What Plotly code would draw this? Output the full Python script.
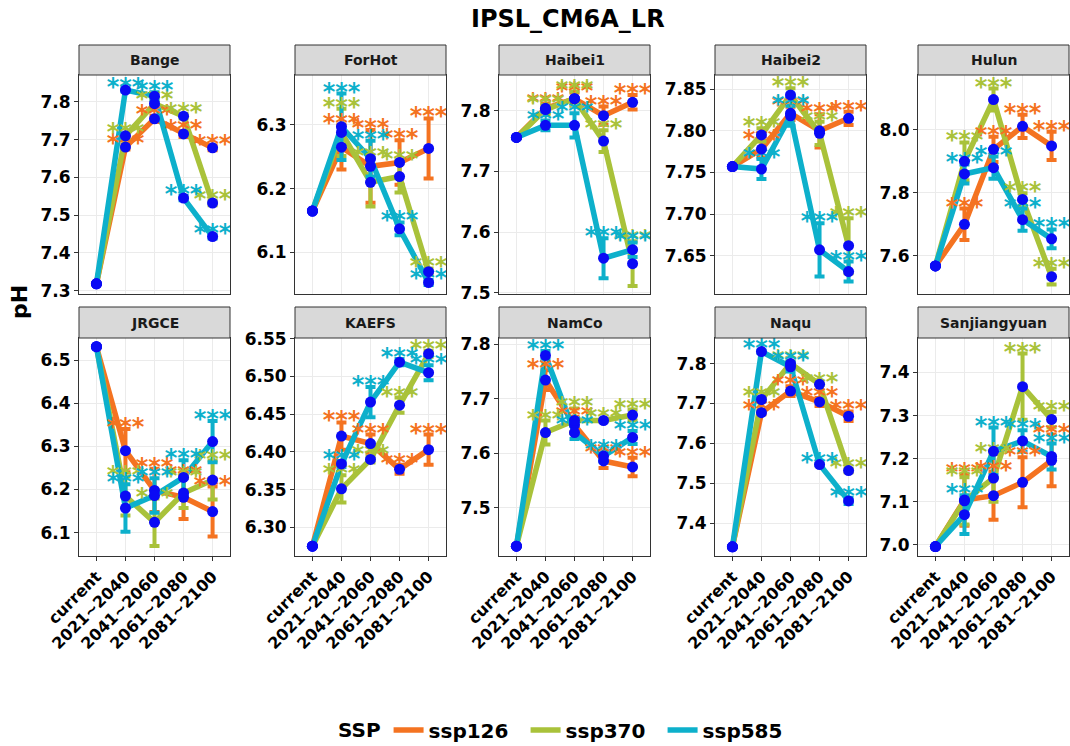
import plotly.graph_objects as go

# ---------------- data ----------------
PERIODS = ["current", "2021~2040", "2041~2060", "2061~2080", "2081~2100"]
SSPS = ["ssp126", "ssp370", "ssp585"]
SITES = ["Bange", "ForHot", "Haibei1", "Haibei2", "Hulun",
         "JRGCE", "KAEFS", "NamCo", "Naqu", "Sanjiangyuan"]
SIG = ["", "***", "***", "***", "***"]

# mean pH per SSP (ssp126, ssp370, ssp585)
bange_mean = [[7.318, 7.680, 7.755, 7.715, 7.678],
              [7.318, 7.710, 7.795, 7.762, 7.532],
              [7.318, 7.831, 7.815, 7.545, 7.443]]
bange_err = [[None, 0.006, 0.008, 0.008, 0.006],
             [None, 0.006, 0.008, 0.006, 0.006],
             [None, 0.004, 0.010, 0.006, 0.005]]

forhot_mean = [[6.165, 6.265, 6.235, 6.241, 6.263],
               [6.165, 6.288, 6.210, 6.219, 6.070],
               [6.165, 6.297, 6.247, 6.137, 6.053]]
forhot_err = [[None, 0.035, 0.057, 0.035, 0.047],
              [None, 0.037, 0.038, 0.025, 0.005],
              [None, 0.052, 0.028, 0.010, 0.004]]

haibei1_mean = [[7.756, 7.804, 7.820, 7.792, 7.814],
                [7.756, 7.802, 7.820, 7.750, 7.548],
                [7.756, 7.776, 7.776, 7.557, 7.571]]
haibei1_err = [[None, 0.008, 0.010, 0.015, 0.012],
               [None, 0.008, 0.012, 0.018, 0.037],
               [None, 0.008, 0.020, 0.033, 0.012]]

haibei2_mean = [[7.757, 7.778, 7.821, 7.800, 7.815],
                [7.757, 7.795, 7.843, 7.797, 7.662],
                [7.757, 7.754, 7.818, 7.657, 7.631]]
haibei2_err = [[None, 0.010, 0.008, 0.020, 0.008],
               [None, 0.008, 0.008, 0.014, 0.033],
               [None, 0.012, 0.012, 0.032, 0.012]]

hulun_mean = [[7.568, 7.700, 7.938, 8.011, 7.949],
              [7.568, 7.900, 8.096, 7.779, 7.534],
              [7.568, 7.860, 7.880, 7.715, 7.654]]
hulun_err = [[None, 0.050, 0.040, 0.037, 0.045],
             [None, 0.060, 0.035, 0.020, 0.025],
             [None, 0.030, 0.035, 0.035, 0.030]]

jrgce_mean = [[6.531, 6.290, 6.198, 6.182, 6.149],
              [6.531, 6.185, 6.124, 6.192, 6.222],
              [6.531, 6.157, 6.186, 6.228, 6.311]]
jrgce_err = [[None, 0.050, 0.050, 0.050, 0.058],
             [None, 0.045, 0.055, 0.035, 0.045],
             [None, 0.055, 0.040, 0.040, 0.048]]

kaefs_mean = [[6.275, 6.421, 6.411, 6.377, 6.403],
              [6.275, 6.351, 6.390, 6.462, 6.530],
              [6.275, 6.384, 6.466, 6.519, 6.505]]
kaefs_err = [[None, 0.018, 0.012, 0.006, 0.020],
             [None, 0.018, 0.004, 0.010, 0.004],
             [None, 0.004, 0.020, 0.004, 0.010]]

namco_mean = [[7.430, 7.734, 7.652, 7.586, 7.575],
              [7.430, 7.638, 7.660, 7.660, 7.670],
              [7.430, 7.779, 7.638, 7.595, 7.629]]
namco_err = [[None, 0.018, 0.015, 0.013, 0.017],
             [None, 0.022, 0.022, 0.002, 0.010],
             [None, 0.008, 0.012, 0.010, 0.012]]

naqu_mean = [[7.341, 7.677, 7.731, 7.704, 7.668],
             [7.341, 7.710, 7.800, 7.748, 7.532],
             [7.341, 7.830, 7.792, 7.547, 7.456]]
naqu_err = [[None, 0.004, 0.012, 0.010, 0.012],
            [None, 0.004, 0.006, 0.002, 0.004],
            [None, 0.003, 0.012, 0.002, 0.008]]

sanjiangyuan_mean = [[6.996, 7.104, 7.114, 7.145, 7.196],
                     [6.996, 7.102, 7.155, 7.367, 7.291],
                     [6.996, 7.070, 7.217, 7.241, 7.205]]
sanjiangyuan_err = [[None, 0.060, 0.056, 0.058, 0.060],
                    [None, 0.055, 0.055, 0.077, 0.018],
                    [None, 0.045, 0.055, 0.025, 0.030]]

MEANS = [bange_mean, forhot_mean, haibei1_mean, haibei2_mean, hulun_mean,
         jrgce_mean, kaefs_mean, namco_mean, naqu_mean, sanjiangyuan_mean]
ERRS = [bange_err, forhot_err, haibei1_err, haibei2_err, hulun_err,
        jrgce_err, kaefs_err, namco_err, naqu_err, sanjiangyuan_err]

# ---------------- styling / layout ----------------
W, H = 1070, 746
COLORS = ["#F47321", "#A9C23A", "#0DB0CB"]
DOT = "#0A0AF5"
FONT = "DejaVu Sans"
YRANGES = [(7.291, 7.871), (6.035, 6.378), (7.498, 7.859), (7.604, 7.867), (7.479, 8.174),
           (6.046, 6.551), (6.262, 6.551), (7.412, 7.811), (7.318, 7.864), (6.974, 7.480)]
DTICKS = [0.1, 0.1, 0.1, 0.05, 0.2, 0.1, 0.05, 0.1, 0.1, 0.1]
COLS = [(79, 230), (295, 446), (499, 650), (715, 866), (918, 1069)]
ROWS = [(75, 294), (338, 556)]
STRIPS = [(45, 75), (307, 338)]


def fx(p):
    return p / W


def fy(p):
    return 1 - p / H


fig = go.Figure()
shapes = []
annotations = []

for i, site in enumerate(SITES):
    r, c = divmod(i, 5)
    k = "" if i == 0 else str(i + 1)
    xa, ya = "x" + k, "y" + k
    means, errs = MEANS[i], ERRS[i]
    # lines + error bars
    for s in range(3):
        fig.add_trace(go.Scatter(
            x=PERIODS, y=means[s], mode="lines", name=SSPS[s], legendgroup=SSPS[s],
            showlegend=(i == 0), line=dict(color=COLORS[s], width=5.5),
            error_y=dict(type="data", array=errs[s], color=COLORS[s], thickness=4, width=5),
            xaxis=xa, yaxis=ya, hoverinfo="skip"))
    # significance stars
    for s in range(3):
        sx, sy, st = [], [], []
        for j in range(1, 5):
            sx.append(PERIODS[j])
            sy.append(means[s][j] + (errs[s][j] or 0))
            st.append(SIG[j])
        fig.add_trace(go.Scatter(
            x=sx, y=sy, mode="text", text=st, textposition="middle center",
            textfont=dict(color=COLORS[s], size=24, family=FONT, weight="bold"),
            showlegend=False, xaxis=xa, yaxis=ya, hoverinfo="skip"))
    # blue mean dots
    dx, dy = [], []
    for s in range(3):
        dx += PERIODS
        dy += means[s]
    fig.add_trace(go.Scatter(
        x=dx, y=dy, mode="markers", marker=dict(color=DOT, size=11),
        showlegend=False, xaxis=xa, yaxis=ya, hoverinfo="skip"))

    x0, x1 = COLS[c]
    y0, y1 = ROWS[r]
    fig.layout["xaxis" + k] = dict(
        domain=[fx(x0), fx(x1)], anchor=ya, type="category", automargin=False,
        categoryorder="array", categoryarray=PERIODS, range=[-0.6, 4.6],
        showgrid=True, gridcolor="#EBEBEB", gridwidth=1.3,
        showline=True, mirror=True, linecolor="#333333", linewidth=1,
        ticks="outside" if r == 1 else "", ticklen=4, tickcolor="#333333",
        showticklabels=(r == 1), tickangle=-45,
        tickfont=dict(family=FONT, size=16, color="black", weight="bold"),
        zeroline=False, fixedrange=True)
    fmt = ".2f" if DTICKS[i] == 0.05 else ".1f"
    fig.layout["yaxis" + k] = dict(
        domain=[fy(y1), fy(y0)], anchor=xa, range=list(YRANGES[i]), automargin=False,
        tick0=0, dtick=DTICKS[i], tickformat=fmt,
        showgrid=True, gridcolor="#EBEBEB", gridwidth=1.3,
        showline=True, mirror=True, linecolor="#333333", linewidth=1,
        ticks="outside", ticklen=4, tickcolor="#333333",
        tickfont=dict(family=FONT, size=17, color="black", weight="bold"),
        zeroline=False, fixedrange=True)
    # strip
    s0, s1 = STRIPS[r]
    shapes.append(dict(type="rect", xref="paper", yref="paper",
                       x0=fx(x0), x1=fx(x1), y0=fy(s1), y1=fy(s0),
                       fillcolor="#D9D9D9", line=dict(color="#333333", width=1), layer="above"))
    annotations.append(dict(text="<b>" + site + "</b>", xref="paper", yref="paper",
                            x=fx((x0 + x1) / 2), y=fy((s0 + s1) / 2), showarrow=False,
                            xanchor="center", yanchor="middle",
                            font=dict(family=FONT, size=14, color="#1A1A1A")))

annotations.append(dict(text="<b>IPSL_CM6A_LR</b>", xref="paper", yref="paper",
                        x=fx(568), y=fy(19), showarrow=False, xanchor="center", yanchor="middle",
                        font=dict(family=FONT, size=24, color="black")))
annotations.append(dict(text="<b>pH</b>", xref="paper", yref="paper",
                        x=fx(19), y=fy(302), showarrow=False, xanchor="center", yanchor="middle",
                        textangle=-90, font=dict(family=FONT, size=22, color="black")))

fig.update_layout(
    width=W, height=H, margin=dict(l=0, r=0, t=0, b=0, autoexpand=False),
    paper_bgcolor="white", plot_bgcolor="white",
    shapes=shapes, annotations=annotations,
    showlegend=True,
    legend=dict(orientation="h", x=fx(568), xanchor="center", y=fy(730), yanchor="middle",
                entrywidth=92,
                title=dict(text="<b>SSP</b>", font=dict(family=FONT, size=20, color="black")),
                font=dict(family=FONT, size=20, color="black", weight="bold"),
                bgcolor="rgba(0,0,0,0)"),
)

fig.write_html("out.html")
